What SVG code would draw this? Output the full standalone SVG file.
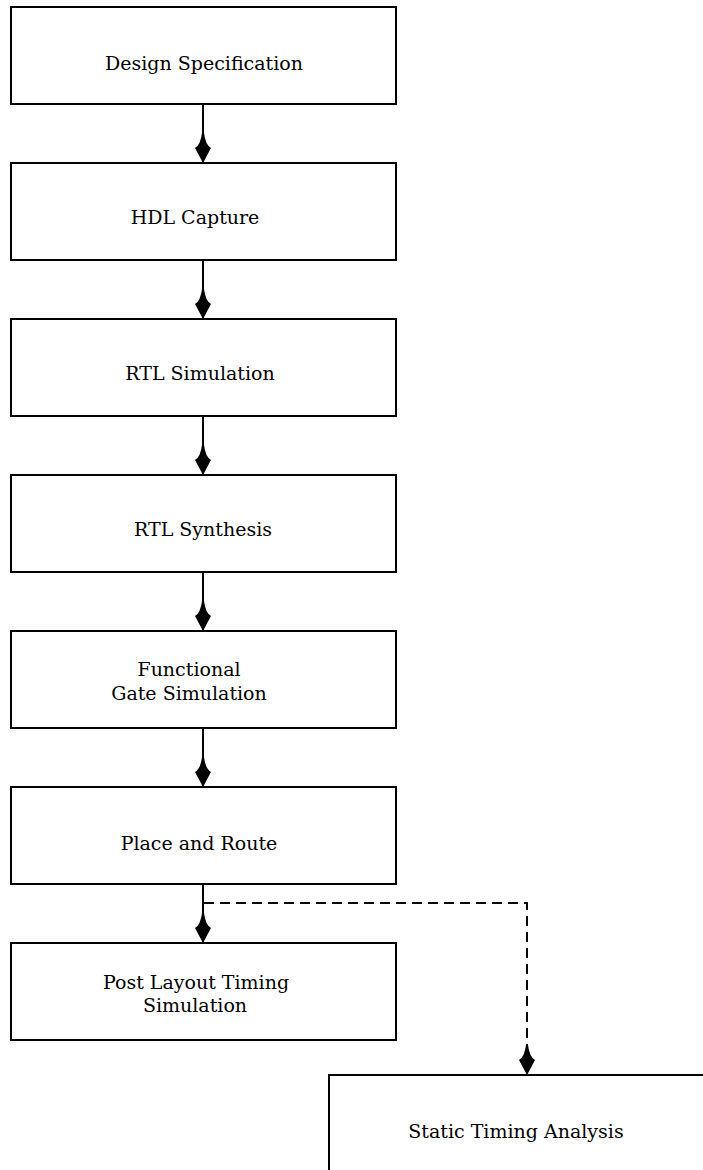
<svg xmlns="http://www.w3.org/2000/svg" width="703" height="1170" viewBox="0 0 703 1170">
<style>
.box{fill:#fff;stroke:#000;stroke-width:2}
.lbl{font-family:"DejaVu Serif","Liberation Serif",serif;font-size:19px;fill:#000;text-anchor:middle}
.ln{fill:none;stroke:#000;stroke-width:2}
.dash{fill:none;stroke:#000;stroke-width:2;stroke-dasharray:10 6}
</style>
<defs>
<marker id="ah" markerUnits="userSpaceOnUse" viewBox="-32 -10 34 20" refX="0" refY="0" markerWidth="34" markerHeight="20" orient="auto" overflow="visible">
<path d="M0,0 L-15,-8 Q-18,-2.5 -30,-1 L-30,1 Q-18,2.5 -15,8 Z" fill="#000"/>
</marker>
</defs>
<g id="connectors">
<line class="ln" x1="203" y1="104" x2="203" y2="163" marker-end="url(#ah)"/>
<line class="ln" x1="203" y1="260" x2="203" y2="319" marker-end="url(#ah)"/>
<line class="ln" x1="203" y1="416" x2="203" y2="475" marker-end="url(#ah)"/>
<line class="ln" x1="203" y1="572" x2="203" y2="631" marker-end="url(#ah)"/>
<line class="ln" x1="203" y1="728" x2="203" y2="787" marker-end="url(#ah)"/>
<line class="ln" x1="203" y1="884" x2="203" y2="943" marker-end="url(#ah)"/>
<path class="dash" d="M204,903 H527 V1075" marker-end="url(#ah)"/>
</g>
<g id="n1"><rect class="box" x="11" y="7" width="385" height="97"/><text class="lbl" x="204" y="70">Design Specification</text></g>
<g id="n2"><rect class="box" x="11" y="163" width="385" height="97"/><text class="lbl" x="195" y="224">HDL Capture</text></g>
<g id="n3"><rect class="box" x="11" y="319" width="385" height="97"/><text class="lbl" x="200" y="380">RTL Simulation</text></g>
<g id="n4"><rect class="box" x="11" y="475" width="385" height="97"/><text class="lbl" x="203" y="536">RTL Synthesis</text></g>
<g id="n5"><rect class="box" x="11" y="631" width="385" height="97"/><text class="lbl" x="189" y="676">Functional</text><text class="lbl" x="189" y="700">Gate Simulation</text></g>
<g id="n6"><rect class="box" x="11" y="787" width="385" height="97"/><text class="lbl" x="199" y="850">Place and Route</text></g>
<g id="n7"><rect class="box" x="11" y="943" width="385" height="97"/><text class="lbl" x="196" y="989">Post Layout Timing</text><text class="lbl" x="195" y="1012">Simulation</text></g>
<g id="n8"><rect class="box" x="329" y="1075" width="385" height="97"/><text class="lbl" x="516" y="1138">Static Timing Analysis</text></g>
</svg>
